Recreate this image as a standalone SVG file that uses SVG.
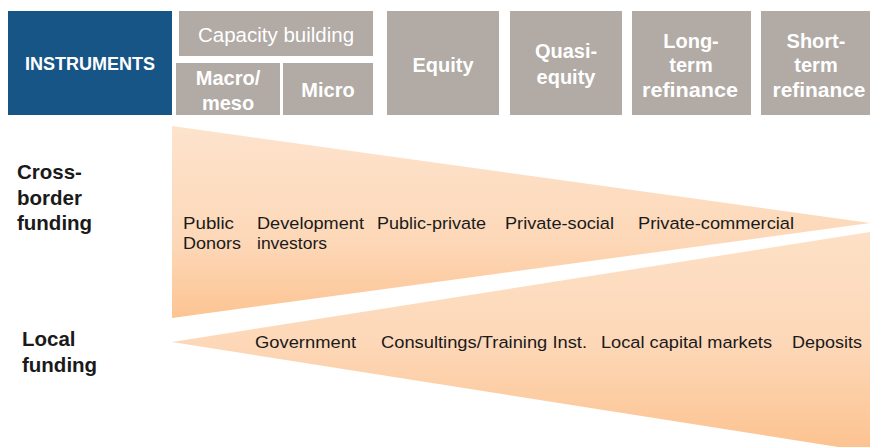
<svg xmlns="http://www.w3.org/2000/svg" width="870" height="447" viewBox="0 0 870 447">
  <style>
    .hdr { fill: #b1aaa5; }
    .ht { fill: #ffffff; font-family: "Liberation Sans", Arial, sans-serif; font-weight: bold; font-size: 20px; text-anchor: middle; }
    .lbl { fill: #1a1a1a; font-family: "Liberation Sans", Arial, sans-serif; font-size: 16.3px; }
    .side { fill: #1a1a1a; font-family: "Liberation Sans", Arial, sans-serif; font-weight: bold; font-size: 20.5px; }
  </style>
  <defs>
    <linearGradient id="gUp" x1="0" y1="0" x2="0" y2="1">
      <stop offset="0" stop-color="#fde3cd"/>
      <stop offset="0.6" stop-color="#fdd8b8"/>
      <stop offset="1" stop-color="#fcc493"/>
    </linearGradient>
    <linearGradient id="gLo" x1="0" y1="0" x2="0" y2="1">
      <stop offset="0" stop-color="#fde0c6"/>
      <stop offset="0.5" stop-color="#fdd8b8"/>
      <stop offset="1" stop-color="#fcc28f"/>
    </linearGradient>
  </defs>
  <rect width="870" height="447" fill="#ffffff"/>

  <g id="instruments">
    <rect x="8" y="11" width="164" height="104" fill="#175586"/>
    <text class="ht" x="90" y="70" style="font-size:18px">INSTRUMENTS</text>
  </g>
  <g id="capacity-building">
    <rect class="hdr" x="179" y="11" width="194" height="45"/>
    <text class="ht" x="276" y="42" style="font-weight:normal;font-size:20.5px">Capacity building</text>
  </g>
  <g id="macro-meso">
    <rect class="hdr" x="176" y="63" width="104" height="52"/>
    <text class="ht" x="228" y="85">Macro/</text>
    <text class="ht" x="228" y="110">meso</text>
  </g>
  <g id="micro">
    <rect class="hdr" x="283" y="63" width="90" height="52"/>
    <text class="ht" x="328" y="97">Micro</text>
  </g>
  <g id="equity">
    <rect class="hdr" x="387" y="11" width="112" height="104"/>
    <text class="ht" x="443" y="72">Equity</text>
  </g>
  <g id="quasi-equity">
    <rect class="hdr" x="510" y="11" width="112" height="104"/>
    <text class="ht" x="566" y="58">Quasi-</text>
    <text class="ht" x="566" y="84">equity</text>
  </g>
  <g id="long-term-refinance">
    <rect class="hdr" x="632" y="11" width="119" height="104"/>
    <text class="ht" x="691" y="48">Long-</text>
    <text class="ht" x="691" y="72">term</text>
    <text class="ht" x="690" y="97" textLength="96" lengthAdjust="spacingAndGlyphs">refinance</text>
  </g>
  <g id="short-term-refinance">
    <rect class="hdr" x="761" y="11" width="115" height="104"/>
    <text class="ht" x="816" y="48">Short-</text>
    <text class="ht" x="816" y="72">term</text>
    <text class="ht" x="819" y="97" textLength="93" lengthAdjust="spacingAndGlyphs">refinance</text>
  </g>

  <g id="cross-border-funding">
    <polygon points="172,126 870,223 172,318" fill="url(#gUp)"/>
    <text class="side" x="17" y="179">Cross-</text>
    <text class="side" x="17" y="205">border</text>
    <text class="side" x="17" y="230">funding</text>
    <text class="lbl" x="183" y="229" textLength="51" lengthAdjust="spacingAndGlyphs">Public</text>
    <text class="lbl" x="183" y="249" textLength="58" lengthAdjust="spacingAndGlyphs">Donors</text>
    <text class="lbl" x="257" y="229" textLength="107" lengthAdjust="spacingAndGlyphs">Development</text>
    <text class="lbl" x="257" y="249" textLength="70" lengthAdjust="spacingAndGlyphs">investors</text>
    <text class="lbl" x="377" y="229" textLength="109" lengthAdjust="spacingAndGlyphs">Public-private</text>
    <text class="lbl" x="505" y="229" textLength="109" lengthAdjust="spacingAndGlyphs">Private-social</text>
    <text class="lbl" x="638" y="229" textLength="156" lengthAdjust="spacingAndGlyphs">Private-commercial</text>
  </g>

  <g id="local-funding">
    <polygon points="172,342 870,232 870,452" fill="url(#gLo)"/>
    <text class="side" x="22" y="346">Local</text>
    <text class="side" x="22" y="372">funding</text>
    <text class="lbl" x="255" y="348" textLength="101" lengthAdjust="spacingAndGlyphs">Government</text>
    <text class="lbl" x="381" y="348" textLength="206" lengthAdjust="spacingAndGlyphs">Consultings/Training Inst.</text>
    <text class="lbl" x="601" y="348" textLength="171" lengthAdjust="spacingAndGlyphs">Local capital markets</text>
    <text class="lbl" x="792" y="348" textLength="70" lengthAdjust="spacingAndGlyphs">Deposits</text>
  </g>
</svg>
